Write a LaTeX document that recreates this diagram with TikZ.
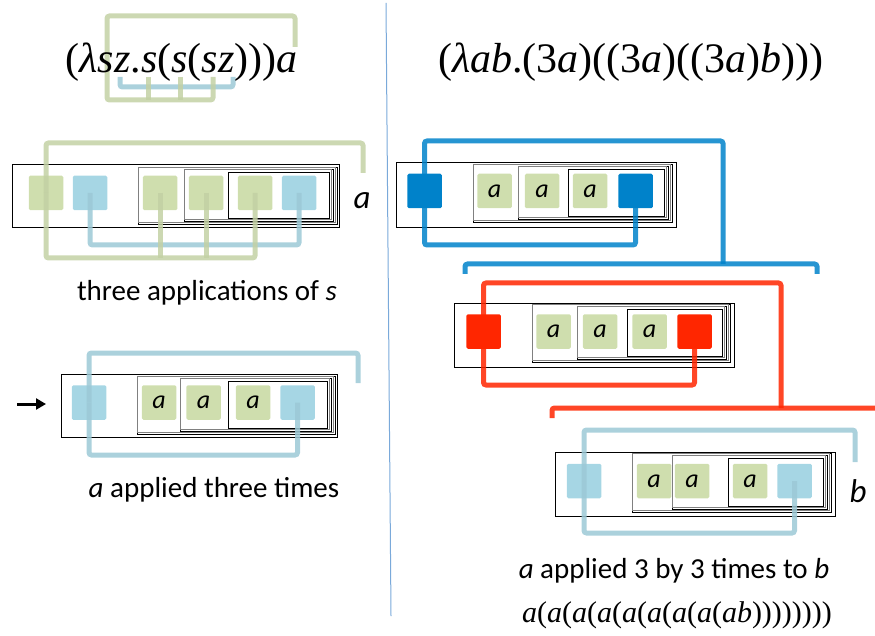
\documentclass[tikz,border=0pt]{standalone}
\usepackage{fontspec}
\setmainfont{Liberation Serif}
\setsansfont{Carlito}
\usetikzlibrary{arrows.meta}
\definecolor{lgreen}{HTML}{CFDEAE}
\definecolor{lblue}{HTML}{A6D6E4}
\definecolor{dblue}{HTML}{0082CA}
\definecolor{rred}{HTML}{FF2600}
\definecolor{divc}{HTML}{7AA9DA}
\tikzset{
 sq/.style={minimum size=34.5pt, inner sep=0pt, rounded corners=1.5pt, draw=none, font=\sffamily\fontsize{26}{26}\selectfont\itshape},
 gsq/.style={sq, fill=lgreen},
 bsq/.style={sq, fill=lblue},
 dsq/.style={sq, fill=dblue},
 rsq/.style={sq, fill=rred},
 wire/.style={line width=5pt, rounded corners=2.5pt, draw opacity=0.85},
 gw/.style={wire, draw=lgreen!94!black},
 bw/.style={wire, draw=lblue!94!black},
 dw/.style={wire, draw=dblue},
 rw/.style={wire, draw=rred},
 bx/.style={draw=black, line width=0.8pt},
 bxg/.style={draw=black!50, line width=0.7pt},
 lbl/.style={inner sep=0pt, anchor=base, font=\sffamily\fontsize{29}{29}\selectfont},
 big/.style={inner sep=0pt, anchor=base, font=\sffamily\fontsize{33}{33}\selectfont\itshape},
 frm/.style={inner sep=0pt, anchor=base, font=\rmfamily\fontsize{42}{42}\selectfont},
}
\newcommand\nestbox[6]{%
 \draw[bx] (#1,#4) rectangle (#5,#6);
 \draw[bxg] (#1,#4) rectangle (#5-2,#6-1.5);
 \draw[bx] (#2,#4+2.5) rectangle (#5-4,#6-3);
 \draw[bxg] (#2,#4+2.5) rectangle (#5-6,#6-4.5);
 \draw[bx] (#3,#4+5) rectangle (#5-8,#6-6);
}
\begin{document}
\begin{tikzpicture}[x=1pt,y=-1pt]
\useasboundingbox (0,0) rectangle (875,636);

% divider
\coordinate (dv1) at (386,3);
\coordinate (dv2) at (391,616);
\draw[divc, line width=1pt] (dv1) -- (dv2);

% ---------- top-left formula with brackets
\coordinate (FLs) at (107,100);
\coordinate (FLtl) at (107,16);
\coordinate (FLtr) at (295,16);
\coordinate (FLa) at (295,47);
\coordinate (FLs2) at (148,77);
\coordinate (FLs3) at (180,77);
\coordinate (FLs4) at (213,77);
\coordinate (FLbase) at (0,100);
\coordinate (FLz1) at (120,77);
\coordinate (FLz2) at (233,77);
\coordinate (FLbb) at (0,87);
\draw[bw] (FLz1) -- (FLz1 |- FLbb) -| (FLz2);
\draw[gw] (FLa) |- (FLtl) -- (FLs) -| (FLs4);
\draw[gw] (FLs2) -- (FLs2 |- FLbase);
\draw[gw] (FLs3) -- (FLs3 |- FLbase);
\node[frm] (FL) at (181.5,73) {(\textit{λsz}.\textit{s}(\textit{s}(\textit{sz})))\textit{a}};

% ---------- top-right formula
\node[frm] (FR) at (631,73) {(\textit{λab}.(3\textit{a})((3\textit{a})((3\textit{a})\textit{b})))};

% ---------- left diagram 1
\draw[bx] (12,164) rectangle (339,227);
\nestbox{138}{184}{228}{167}{337}{224}
\node[gsq] (LAg1) at (46,193) {};
\node[bsq] (LAb1) at (90,193) {};
\node[gsq] (LAg2) at (160,193) {};
\node[gsq] (LAg3) at (206,193) {};
\node[gsq] (LAg4) at (255,193) {};
\node[bsq] (LAb2) at (299,193) {};
\coordinate (LAtop) at (363,143);
\coordinate (LAend) at (363,173);
\coordinate (LAgb) at (0,258);
\coordinate (LAbb) at (0,245);
\draw[bw] (LAb1.center) -- (LAb1 |- LAbb) -| (LAb2.center);
\draw[gw] (LAg1.center) |- (LAtop) -- (LAend);
\draw[gw] (LAg1.center) -- (LAg1 |- LAgb) -| (LAg4.center);
\draw[gw] (LAg2.center) -- (LAg2 |- LAgb);
\draw[gw] (LAg3.center) -- (LAg3 |- LAgb);
\node[big] (LAa) at (362,209) {a};
\node[lbl] (LAt) at (207,300) {three applications of \textit{s}};

% ---------- left diagram 2
\coordinate (arS) at (17,404);
\coordinate (arE) at (46,404);
\draw[line width=3pt, -{Triangle[length=10pt,width=11pt]}] (arS) -- (arE);
\draw[bx] (61,374) rectangle (337,437);
\nestbox{137}{180}{228}{376}{335}{434}
\node[bsq] (LBb1) at (89,402.5) {};
\node[gsq] (LBa1) at (159,402.5) {a};
\node[gsq] (LBa2) at (203.5,402.5) {a};
\node[gsq] (LBa3) at (253,402.5) {a};
\node[bsq] (LBb2) at (297.5,402.5) {};
\coordinate (LBtop) at (358,353);
\coordinate (LBend) at (358,383);
\coordinate (LBbb) at (0,455);
\draw[bw] (LBb1.center) |- (LBtop) -- (LBend);
\draw[bw] (LBb1.center) -- (LBb1 |- LBbb) -| (LBb2.center);
\node[lbl] (LBt) at (214,497) {\textit{a} applied three times};

% ---------- right diagram 1
\draw[bx] (396,162) rectangle (676,227);
\nestbox{473}{518}{568}{164}{672}{222}
\node[dsq] (RAd1) at (424.5,191) {};
\node[gsq] (RAa1) at (494.5,191) {a};
\node[gsq] (RAa2) at (542,191) {a};
\node[gsq] (RAa3) at (590,191) {a};
\node[dsq] (RAd2) at (635.5,191) {};
\coordinate (RAtop) at (723,141);
\coordinate (RAjoin) at (723,264);
\coordinate (RAbl) at (465,274);
\coordinate (RAbr) at (817,274);
\coordinate (RAbb) at (0,245);
\draw[dw] (RAd1.center) |- (RAtop) -- (RAjoin);
\draw[dw] (RAbl) |- (RAjoin) -| (RAbr);
\draw[dw] (RAd1.center) -- (RAd1 |- RAbb) -| (RAd2.center);

% ---------- right diagram 2
\draw[bx] (454,303) rectangle (734,367);
\nestbox{532}{577}{627}{304}{730}{362}
\node[rsq] (RBr1) at (483.5,331.5) {};
\node[gsq] (RBa1) at (553.5,331.5) {a};
\node[gsq] (RBa2) at (600,331.5) {a};
\node[gsq] (RBa3) at (649.5,331.5) {a};
\node[rsq] (RBr2) at (694.5,331.5) {};
\coordinate (RBtop) at (781,283);
\coordinate (RBjoin) at (781,408);
\coordinate (RBbl) at (552,418);
\coordinate (RBedge) at (877,408);
\coordinate (RBbb) at (0,385);
\draw[rw] (RBr1.center) |- (RBtop) -- (RBjoin);
\draw[rw] (RBbl) |- (RBjoin) -- (RBedge);
\draw[rw] (RBr1.center) -- (RBr1 |- RBbb) -| (RBr2.center);

% ---------- right diagram 3
\draw[bx] (555,452) rectangle (835,516);
\nestbox{632}{672}{728}{453}{831}{512}
\node[bsq] (RCb1) at (584,481) {};
\node[gsq] (RCa1) at (654,481) {a};
\node[gsq] (RCa2) at (692,481) {a};
\node[gsq] (RCa3) at (750,481) {a};
\node[bsq] (RCb2) at (794.5,481) {};
\coordinate (RCtop) at (855,430);
\coordinate (RCend) at (855,462);
\coordinate (RCbb) at (0,533);
\draw[bw] (RCb1.center) |- (RCtop) -- (RCend);
\draw[bw] (RCb1.center) -- (RCb1 |- RCbb) -| (RCb2.center);
\node[big] (RCb) at (858,502) {b};

\node[lbl] (RCt) at (674,578) {\textit{a} applied 3 by 3 times to \textit{b}};
\node[inner sep=0pt, anchor=base, font=\rmfamily\fontsize{30}{30}\selectfont] (RCf) at (677,622)
 {\textit{a}(\textit{a}(\textit{a}(\textit{a}(\textit{a}(\textit{a}(\textit{a}(\textit{a}(\textit{ab}))))))))};
\end{tikzpicture}
\end{document}
